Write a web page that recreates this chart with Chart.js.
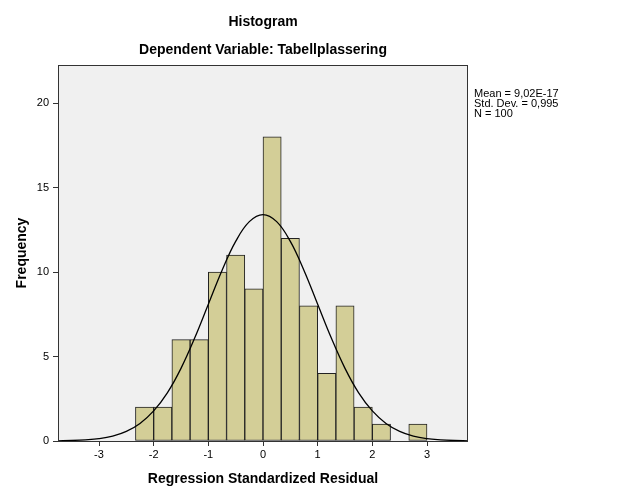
<!DOCTYPE html>
<html>
<head>
<meta charset="utf-8">
<script src="https://cdn.jsdelivr.net/npm/chart.js@4/dist/chart.umd.min.js"></script>
<style>
  html, body { margin: 0; padding: 0; background: #fff; }
  canvas { display: block; }
</style>
</head>
<body>
<canvas id="hist" width="626" height="501"></canvas>
<script>
// bins are 1/3 wide, listed by centre
const binCenters = [-2.1667, -1.8333, -1.5, -1.1667, -0.8333, -0.5, -0.1667, 0.1667, 0.5, 0.8333, 1.1667, 1.5, 1.8333, 2.1667, 2.5, 2.8333];
const counts     = [2, 2, 6, 6, 10, 11, 9, 18, 12, 8, 4, 8, 2, 1, null, 1];

// normal curve
const curveX = [-3.75, -3.5, -3.25, -3, -2.75, -2.5, -2.25, -2, -1.75, -1.5, -1.25, -1, -0.75, -0.5, -0.25, 0,
                0.25, 0.5, 0.75, 1, 1.25, 1.5, 1.75, 2, 2.25, 2.5, 2.75, 3, 3.25, 3.5, 3.75];
const curveY = [0.01, 0.03, 0.07, 0.14, 0.29, 0.57, 1.04, 1.78, 2.85, 4.3, 6.09, 8.09, 10.09, 11.81, 12.98, 13.4,
                12.98, 11.81, 10.09, 8.09, 6.09, 4.3, 2.85, 1.78, 1.04, 0.57, 0.29, 0.14, 0.07, 0.03, 0.01];

const xTicks = [-3, -2, -1, 0, 1, 2, 3];
const yTicks = [0, 5, 10, 15, 20];

const titleText = 'Histogram';
const subtitleText = 'Dependent Variable: Tabellplassering';
const xTitle = 'Regression Standardized Residual';
const yTitle = 'Frequency';
const statsLines = ['Mean = 9,02E-17', 'Std. Dev. = 0,995', 'N = 100'];

const FONT = 'Arial, "Liberation Sans", sans-serif';

const decor = {
  id: 'decor',
  beforeDraw(chart) {
    const { ctx, chartArea: a } = chart;
    ctx.save();
    ctx.fillStyle = '#f0f0f0';
    ctx.fillRect(a.left, a.top, a.right - a.left, a.bottom - a.top);
    ctx.restore();
  },
  afterDraw(chart) {
    const { ctx, chartArea: a } = chart;
    const cx = (a.left + a.right) / 2;
    ctx.save();
    ctx.strokeStyle = '#333';
    ctx.lineWidth = 1;
    ctx.strokeRect(a.left + 0.5, a.top + 0.5, a.right - a.left - 1, a.bottom - a.top);

    ctx.fillStyle = '#000';
    ctx.textAlign = 'center';
    ctx.textBaseline = 'middle';
    ctx.font = 'bold 14px ' + FONT;
    ctx.fillText(titleText, cx, 22);
    ctx.fillText(subtitleText, cx, 50);
    ctx.fillText(xTitle, cx, 479);

    ctx.save();
    ctx.translate(22, (a.top + a.bottom) / 2);
    ctx.rotate(-Math.PI / 2);
    ctx.fillText(yTitle, 0, 0);
    ctx.restore();

    ctx.font = '11px ' + FONT;
    ctx.textAlign = 'left';
    statsLines.forEach((t, i) => ctx.fillText(t, 474, 94 + i * 10));
    ctx.restore();
  }
};

const ctx = document.getElementById('hist').getContext('2d');
new Chart(ctx, {
  type: 'bar',
  data: {
    datasets: [
      {
        type: 'line',
        data: curveX.map((x, i) => ({ x: x, y: curveY[i] })),
        borderColor: '#000',
        borderWidth: 1.3,
        pointRadius: 0,
        tension: 0.4,
        fill: false,
        order: 0
      },
      {
        type: 'bar',
        data: binCenters.map((x, i) => ({ x: x, y: counts[i] })),
        backgroundColor: '#d3ce97',
        borderColor: '#222',
        borderWidth: 1,
        borderSkipped: false,
        barPercentage: 1,
        categoryPercentage: 1,
        order: 1
      }
    ]
  },
  options: {
    responsive: false,
    animation: false,
    layout: { padding: { left: 33, right: 158, top: 65, bottom: 40 } },
    plugins: { legend: { display: false }, tooltip: { enabled: false }, title: { display: false } },
    scales: {
      x: {
        type: 'linear',
        min: -3.75, max: 3.75,
        offset: false,
        afterBuildTicks: s => { s.ticks = xTicks.map(v => ({ value: v })); },
        afterFit: s => { s.height = 20; },
        grid: { drawOnChartArea: false, offset: false, color: '#333', tickLength: 5 },
        border: { display: false },
        ticks: { color: '#000', font: { family: FONT, size: 11 }, padding: 2, maxRotation: 0 }
      },
      y: {
        min: 0, max: 22.25,
        afterBuildTicks: s => { s.ticks = yTicks.map(v => ({ value: v })); },
        afterFit: s => { s.width = 25; },
        grid: { drawOnChartArea: false, color: '#333', tickLength: 5 },
        border: { display: false },
        ticks: { color: '#000', font: { family: FONT, size: 11 }, padding: 4 }
      }
    }
  },
  plugins: [decor]
});
</script>
</body>
</html>
